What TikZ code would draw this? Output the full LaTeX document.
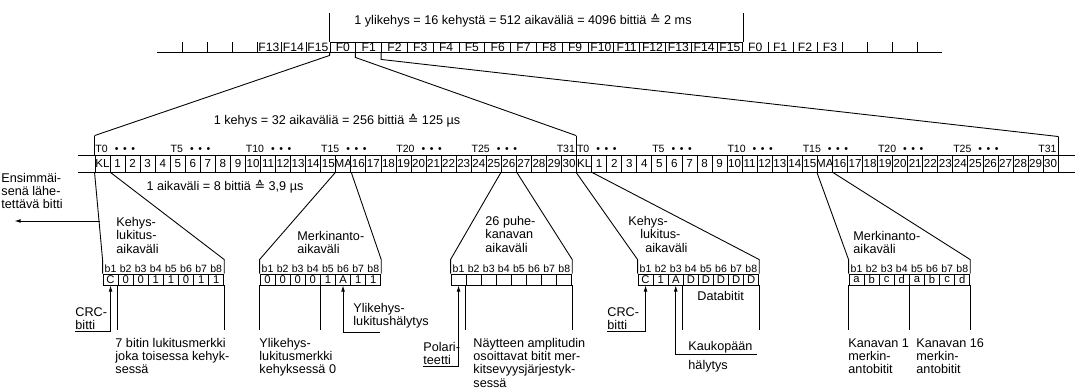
\documentclass[tikz,border=0pt]{standalone}
\usepackage{fontspec}
\setmainfont{Liberation Sans}
\newfontfamily\dejavu{DejaVu Sans}
\usepackage{tikz}
\usetikzlibrary{arrows.meta}
\newcommand{\vastaa}{{\dejavu\char"2259}}
\newcommand{\pisteet}{\hspace{4pt}•\hspace{2.6pt}•\hspace{2.6pt}•}

\begin{document}
\begin{tikzpicture}[
          x=0.02cm, y=-0.02cm, line width=0.5pt,
          every node/.style={font=\fontsize{7.2}{7.5}\selectfont, inner sep=0pt},
          fcell/.style={draw, minimum width=0.516cm, minimum height=0.2cm, font=\fontsize{6.9}{7}\selectfont},
          acell/.style={draw, minimum width=0.301cm, minimum height=0.34cm, font=\fontsize{6.6}{7}\selectfont},
          bcell/.style={draw, minimum width=0.302cm, minimum height=0.22cm, font=\fontsize{6.4}{7}\selectfont},
          blab/.style={font=\fontsize{6}{6}\selectfont},
          tlab/.style={anchor=base west, font=\fontsize{6}{6}\selectfont},
          txt/.style={align=left, anchor=north west},
          otsikko/.style={align=left, anchor=north west, font=\fontsize{7.2}{7.9}\selectfont},
          pil/.style={-{Latex[length=3.5pt,width=2.2pt]}},
        ]
        \useasboundingbox (0,0) rectangle (1080,390);

        \node (ylk) at (523,21) {1 ylikehys = 16 kehystä = 512 aikaväliä = 4096 bittiä \vastaa{} 2 ms};
        \draw (157,52) -- (942,52);
        \foreach \i in {0,...,15} {
          \node[fcell] (s\i) at ({330+(\i+0.5)*25.8},47) {F\i};
        }
        \foreach \lab [count=\i] in {F13,F14,F15} {
          \node[font=\fontsize{6.9}{7}\selectfont] (sl\i) at ({256.6+(\i-0.5)*24.5},47) {\lab};
        }
        \foreach \lab [count=\i from 0] in {F0,F1,F2,F3} {
          \node[font=\fontsize{6.9}{7}\selectfont] (sr\i) at ({742.8+(\i+0.5)*24.9},47) {\lab};
        }
        \foreach \xx in {182,207,232,257,281,306,768,793,817,842,867,892,917} {
          \draw (\xx,42) -- (\xx,52);
        }
        \draw (s0.north west) -- ++(0,-29);
        \draw (s15.north east) -- ++(0,-29);

        \draw (78,155) -- (1075,155);
        \draw (78,172) -- (1075,172);
        \foreach \lab [count=\i from 0] in {KL,1,2,3,4,5,6,7,8,9,10,11,12,13,14,15,MA,16,17,18,19,20,21,22,23,24,25,26,27,28,29,30} {
          \node[acell] (a\i) at ({95+(\i+0.5)*15.05},163.5) {\makebox[0pt]{\lab}};
          \node[acell] (b\i) at ({576.6+(\i+0.5)*15.05},163.5) {\makebox[0pt]{\lab}};
        }
        \foreach \t in {0,5,...,25} {
          \node[tlab] (ta\t) at ({95+\t*15.05},152) {T\t\pisteet};
          \node[tlab] (tb\t) at ({576.6+\t*15.05},152) {T\t\pisteet};
        }
        \node[tlab, anchor=base east] (ta31) at (575.4,152) {T31};
        \node[tlab, anchor=base east] (tb31) at (1057,152) {T31};

        \draw (a0.north west) -- ++(0,-19) coordinate (k0);
        \draw (b0.north west) -- ++(0,-19) coordinate (k1);
        \draw (b31.north east) -- ++(0,-18) coordinate (k2);
        \draw (s0.south west) -- ++(0,3) -- (k0);
        \draw (s1.south west) -- ++(0,5) -- (k1);
        \draw (s2.south west) -- ++(0,7) -- (k2);

        \node (kehys) at (337,121) {1 kehys = 32 aikaväliä = 256 bittiä \vastaa{} 125 µs};
        \node (aikav) at (225,187) {1 aikaväli = 8 bittiä \vastaa{} 3,9 µs};
        \node[txt] (ens) at (1,173) {Ensimmäi-\\senä lähe-\\tettävä bitti};
        \coordinate (ensp) at (99.5,221);
        \draw[pil] (ensp) -- ++(-85,0);

        \foreach \n/\bx/\arvot in {1/103/{C,0,0,1,1,0,1,1}, 2/260/{0,0,0,0,1,A,1,1}, 3/451/{~,~,~,~,~,~,~,~}, 4/638/{C,1,A,D,D,D,D,D}, 5/849/{a,b,c,d,a,b,c,d}} {
          \foreach \v [count=\j] in \arvot {
            \node[bcell] (p\n-\j) at ({\bx+(\j-0.5)*15.1},279.5) {\v};
            \node[blab] (q\n-\j) at ({\bx+(\j-0.5)*15.1},268.5) {b\j};
          }
        }

        \draw (p1-1.north west) -- ++(0,-14) -- (a0.south west);
        \draw (p1-8.north east) -- ++(0,-14) -- (a0.south east);
        \draw (p2-1.north west) -- ++(0,-14) -- (a16.south west);
        \draw (p2-8.north east) -- ++(0,-14) -- (a16.south east);
        \draw (p3-1.north west) -- ++(0,-14) -- (a27.south west);
        \draw (p3-8.north east) -- ++(0,-14) -- (a27.south east);
        \draw (p4-1.north west) -- ++(0,-14) -- (b0.south west);
        \draw (p4-8.north east) -- ++(0,-14) -- (b0.south east);
        \draw (p5-1.north west) -- ++(0,-14) -- (b16.south west);
        \draw (p5-8.north east) -- ++(0,-14) -- (b16.south east);
        \foreach \a in {p1-2.south west, p1-8.south east, p2-1.south west, p2-5.south west, p3-2.south west, p3-8.south east, p4-4.south west, p4-8.south east, p5-1.south west, p5-5.south west, p5-8.south east} {
          \draw (\a) -- ++(0,45);
        }

        \node[otsikko] (otsk1) at (116,216.5) {Kehys-\\lukitus-\\aikaväli};
        \node[otsikko] (otsm1) at (297,230.5) {Merkinanto-\\aikaväli};
        \node[otsikko] (otsp) at (485,215.5) {26 puhe-\\kanavan\\aikaväli};
        \node[otsikko] (otsk2) at (628,215.5) {Kehys-\\\hspace*{6.8pt}lukitus-\\\hspace*{9.6pt}aikaväli};
        \node[otsikko] (otsm2) at (853,230.5) {Merkinanto-\\aikaväli};

        \node[txt, anchor=south west] (crc1) at (75,330) {CRC-\\bitti};
        \draw[pil] ([yshift=-1pt]crc1.south west) -| (p1-1.south);
        \node[txt, anchor=south west] (ylh) at (353,329) {Ylikehys-\\lukitushälytys};
        \coordinate (ylhp) at (380,332);
        \draw[pil] (ylhp) -| (p2-6.south);
        \node[txt, anchor=south west] (pol) at (423,365) {Polari-\\teetti};
        \draw[pil] ([yshift=-1pt]pol.south west) -| (p3-1.south);
        \node[txt, anchor=south west] (crc2) at (607,330) {CRC-\\bitti};
        \draw[pil] ([yshift=-1pt]crc2.south west) -| (p4-1.south);
        \node[align=left, anchor=west] (kaukop) at (688,357) {Kaukopään\\[3.5pt]hälytys};
        \coordinate (kaukopp) at (757,354);
        \draw[pil] (kaukopp) -| (p4-3.south);
        \node[anchor=west] (datab) at (697,296) {Databitit};

        \node[txt] (lk7) at (115,338) {7 bitin lukitusmerkki\\joka toisessa kehyk-\\sessä};
        \node[txt] (ylm) at (259,338) {Ylikehys-\\lukitusmerkki\\kehyksessä 0};
        \node[txt] (nayt) at (473,338) {Näytteen amplitudin\\osoittavat bitit mer-\\kitsevyysjärjestyk-\\sessä};
        \node[txt] (kan1) at (848,338) {Kanavan 1\\merkin-\\antobitit};
        \node[txt] (kan16) at (916,338) {Kanavan 16\\merkin-\\antobitit};
      \end{tikzpicture}
\end{document}
